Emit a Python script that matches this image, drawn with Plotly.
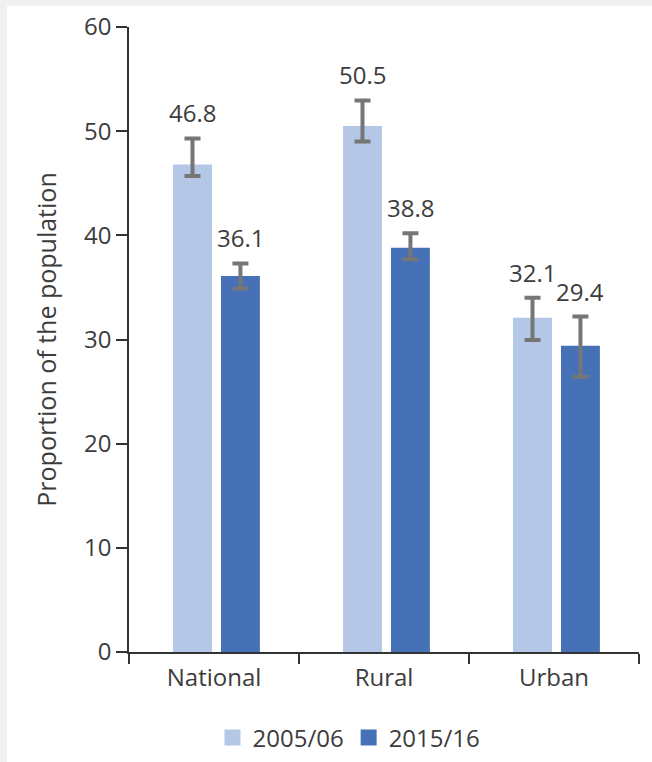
import plotly.graph_objects as go

categories = ["National", "Rural", "Urban"]
series_names = ["2005/06", "2015/16"]
values_2005 = [46.8, 50.5, 32.1]
values_2015 = [36.1, 38.8, 29.4]
err_plus_2005 = [2.5, 2.45, 1.9]
err_minus_2005 = [1.1, 1.5, 2.15]
err_plus_2015 = [1.2, 1.4, 2.8]
err_minus_2015 = [1.2, 1.1, 3.0]
y_ticks = [0, 10, 20, 30, 40, 50, 60]
y_title = "Proportion of the population"

colors = ["#b4c7e7", "#4771b7"]
err_color = "#767676"
text_color = "#3c3c3c"
FONT = "Open Sans"
FS = 24

W, H = 652, 762
ML, MR, MT, MB = 129, 13, 27, 110
BAR_W = 0.229
OFFSETS = [-0.241, 0.041]

fig = go.Figure()
all_vals = [values_2005, values_2015]
all_plus = [err_plus_2005, err_plus_2015]
all_minus = [err_minus_2005, err_minus_2015]

for k in range(2):
    fig.add_trace(go.Bar(
        x=categories, y=all_vals[k], name=series_names[k],
        width=BAR_W, offset=OFFSETS[k],
        marker=dict(color=colors[k], line=dict(width=0)),
        error_y=dict(type="data", symmetric=False, array=all_plus[k],
                     arrayminus=all_minus[k], color=err_color,
                     thickness=4, width=8),
        showlegend=False,
    ))
    # legend proxy
    fig.add_trace(go.Scatter(
        x=[None], y=[None], mode="markers", name=series_names[k],
        marker=dict(symbol="square", size=16, color=colors[k]),
        showlegend=True,
    ))

for k in range(2):
    for i, c in enumerate(categories):
        xc = i + OFFSETS[k] + BAR_W / 2
        fig.add_annotation(
            x=xc, y=all_vals[k][i] + all_plus[k][i], xref="x", yref="y",
            text=f"{all_vals[k][i]:.1f}", showarrow=False,
            yanchor="bottom", xanchor="center", yshift=7,
            font=dict(family=FONT, size=FS, color=text_color),
        )

pw = W - ML - MR
ph = H - MT - MB
# light grey frame strips (top & left)
fig.add_shape(type="rect", xref="paper", yref="paper",
              x0=-ML / pw, x1=(-ML + 7) / pw, y0=-MB / ph, y1=(ph + MT) / ph,
              fillcolor="#f0f0f0", line=dict(width=0), layer="below")
fig.add_shape(type="rect", xref="paper", yref="paper",
              x0=-ML / pw, x1=(pw + MR) / pw, y0=(ph + MT - 6) / ph, y1=(ph + MT) / ph,
              fillcolor="#f0f0f0", line=dict(width=0), layer="below")

fig.update_layout(
    width=W, height=H,
    margin=dict(l=ML, r=MR, t=MT, b=MB, pad=0, autoexpand=False),
    paper_bgcolor="white", plot_bgcolor="white",
    barmode="group",
    font=dict(family=FONT, size=FS, color=text_color),
    legend=dict(orientation="h", x=(349 - ML) / pw, xanchor="center",
                yref="container", y=(H - 738) / H, yanchor="middle",
                font=dict(family=FONT, size=FS, color=text_color),
                bgcolor="rgba(0,0,0,0)", itemsizing="trace"),
    xaxis=dict(type="category", showline=True, linecolor="#333333", linewidth=1.5,
               ticks="outside", tickson="boundaries", ticklen=10, tickwidth=1.5,
               tickcolor="#333333", showgrid=False, zeroline=False,
               ticklabelstandoff=3, automargin=False,
               tickfont=dict(family=FONT, size=FS, color=text_color)),
    yaxis=dict(range=[0, 60], tickvals=y_ticks, showline=True, linecolor="#333333",
               linewidth=1.5, ticks="outside", ticklen=11, tickwidth=1.5,
               tickcolor="#333333", showgrid=False, zeroline=False, automargin=False,
               tickfont=dict(family=FONT, size=FS, color=text_color),
               title=dict(text=y_title, standoff=20,
                          font=dict(family=FONT, size=25, color=text_color))),
)

fig.write_html("out.html")
